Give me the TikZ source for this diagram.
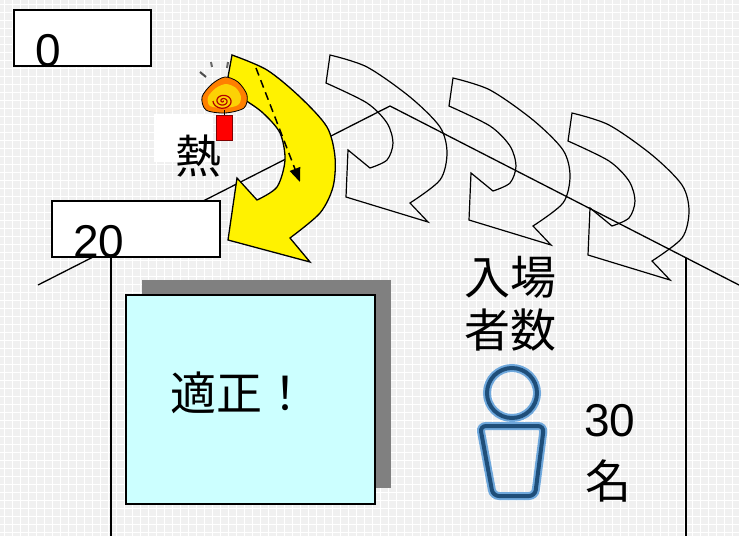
\documentclass[tikz,border=0pt]{standalone}
\usepackage{fontspec}
\setmainfont{Liberation Sans}
\newfontfamily\jp{Noto Sans CJK JP}
\usetikzlibrary{arrows.meta}

\definecolor{paper}{RGB}{240,240,240}
\definecolor{pale}{RGB}{204,255,255}
\definecolor{shade}{RGB}{128,128,128}
\definecolor{navy}{RGB}{31,78,121}
\definecolor{sky}{RGB}{111,168,220}

% outline of one curved arrow, tail corner at the origin
\newcommand{\swirl}{%
  plot[smooth] coordinates {(0,0) (37,12) (80,42) (110,72) (117,98) (110,125) (80,148)}
  -- (98,167) -- (16,142) -- (18,95) -- (40,113)
  -- plot[smooth] coordinates {(40,113) (57,105) (63,88) (57,68) (37,48) (-4,28)}
  -- cycle}

\tikzset{
  box/.style={draw, fill=white, line width=1.2pt, inner sep=0pt},
  num/.style={inner sep=0pt, font=\fontsize{46}{52}\selectfont},
  jtxt/.style={inner sep=0pt, align=center, font=\fontsize{46}{53}\selectfont\jp},
  wall/.style={line width=1.3pt},
}

\begin{document}
\begin{tikzpicture}[x=1pt, y=-1pt]
\useasboundingbox (0,0) rectangle (739,536);
\fill[paper] (0,0) rectangle (739,536);
\foreach \i in {4,12,...,739} \draw[white, line width=1pt] (\i,0) -- (\i,536);
\foreach \i in {4,12,...,536} \draw[white, line width=1pt] (0,\i) -- (739,\i);

% roof and walls
\coordinate (eaveL) at (38,285);
\coordinate (apex) at (390,106);
\coordinate (eaveR) at (739,285);
\coordinate (wallL) at (111,248);
\coordinate (footL) at (111,536);
\coordinate (wallR) at (686,258);
\coordinate (footR) at (686,536);
\draw[wall] (eaveL) -- (apex) -- (eaveR);
\draw[wall] (wallL) -- (footL);
\draw[wall] (wallR) -- (footR);

% open arrows
\draw[line width=1.2pt, shift={(330,55)}] \swirl;
\draw[line width=1.2pt, shift={(453,78)}] \swirl;
\draw[line width=1.2pt, shift={(572,113)}] \swirl;

% yellow arrow
\draw[fill=yellow, line width=1.3pt]
  plot[smooth] coordinates {(232,55) (267,70) (300,97) (327,127) (335,157) (333,187) (320,213) (290,238)}
  -- (310,262) -- (228,240) -- (237,178) -- (257,200)
  -- plot[smooth] coordinates {(257,200) (277,187) (285,160) (280,133) (263,113) (245,100) (226,88)}
  -- cycle;
\draw[dashed, dash pattern=on 8pt off 5pt, line width=1.5pt, -{Triangle[length=14pt,width=11pt]}] (256,68) -- (300,182);

% value boxes
\node[box, minimum width=137pt, minimum height=56pt] (top) at (82.5,38) {};
\node[num] (zero) at (48,51) {0};
\node[box, minimum width=168pt, minimum height=56pt] (low) at (136,229) {};
\node[num] (twenty) at (99,242) {20};

% heat
\node[fill=white, minimum width=59pt, minimum height=48pt, inner sep=0pt] (patch) at (183.5,138) {};
\node[jtxt] (heat) at (198,156) {熱};
\draw[line width=2pt, black!70] (200,72) -- (206,77);
\draw[line width=2pt, black!60] (211,62) -- (212,67);
\draw[line width=2pt, black!60] (228,62) -- (227,68);
\draw[line width=0.8pt, fill=orange] plot[smooth cycle] coordinates {(206,110) (202,97) (212,84) (225,77) (238,82) (247,95) (244,108) (225,113)};
\fill[yellow!70!orange] plot[smooth cycle] coordinates {(210,106) (208,97) (216,88) (226,84) (236,88) (241,97) (238,105) (225,108)};
\draw[red!70!black, line width=1.2pt, domain=0:900, samples=80, variable=\t] plot ({223+\t/900*10*cos(\t)}, {101+\t/900*8*sin(\t)});
\draw[line width=1pt] (224,110) -- (224,116);
\draw[fill=red, draw=red!50!black, line width=0.8pt] (216,115) rectangle (232,140);

% result box
\node[fill=shade, minimum width=249pt, minimum height=208pt, inner sep=0pt] (shadow) at (266.5,384) {};
\node[draw, fill=pale, line width=1.2pt, minimum width=249pt, minimum height=209pt, inner sep=0pt] (ok) at (250.5,399.5) {};
\node[jtxt] (okay) at (239,393) {適正！};

% visitors
\node[jtxt] (count) at (510,304) {入場\\者数};
\draw[sky, line width=8pt] (512,393) circle (25);
\draw[navy, line width=4pt] (512,393) circle (25);
\draw[sky, line width=8pt, rounded corners=6pt] (480,426) -- (544,426) -- (535,496) -- (493,496) -- cycle;
\draw[navy, line width=4pt, rounded corners=6pt] (480,426) -- (544,426) -- (535,496) -- (493,496) -- cycle;
\node[num] (thirty) at (610,421) {30};
\node[jtxt] (mei) at (608,481) {名};

\end{tikzpicture}
\end{document}
